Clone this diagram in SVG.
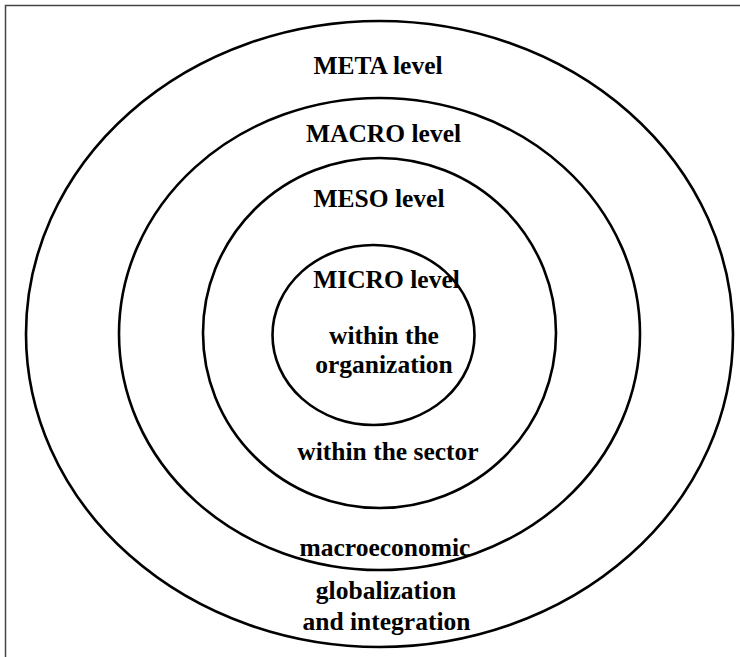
<svg xmlns="http://www.w3.org/2000/svg" width="740" height="657" viewBox="0 0 740 657">
<style>
.ring{fill:none;stroke:#000;stroke-width:2.6}
.lbl{font-family:"Liberation Serif","Times New Roman",serif;font-weight:bold;font-size:25.5px;fill:#000;text-anchor:middle}
.frame{stroke:#444;stroke-width:1.5;fill:none}
</style>
<rect width="740" height="657" fill="#fff"/>
<path class="frame" d="M5.5,657 V5.5 H740"/>
<g id="meta">
<ellipse class="ring" cx="379.5" cy="334" rx="353.5" ry="313"/>
<text class="lbl" x="378" y="74">META level</text>
<text class="lbl" x="386" y="599">globalization</text>
<text class="lbl" x="386.5" y="630">and integration</text>
</g>
<g id="macro">
<ellipse class="ring" cx="379.5" cy="334" rx="260.5" ry="236"/>
<text class="lbl" x="383.5" y="142">MACRO level</text>
<text class="lbl" x="385" y="556">macroeconomic</text>
</g>
<g id="meso">
<ellipse class="ring" cx="379.5" cy="333" rx="176.5" ry="175"/>
<text class="lbl" x="379" y="207">MESO level</text>
<text class="lbl" x="388" y="460">within the sector</text>
</g>
<g id="micro">
<ellipse class="ring" cx="373.5" cy="335" rx="101" ry="90"/>
<text class="lbl" x="386.5" y="288">MICRO level</text>
<text class="lbl" x="384" y="344">within the</text>
<text class="lbl" x="384" y="373">organization</text>
</g>
<g id="connectors"></g>
</svg>
